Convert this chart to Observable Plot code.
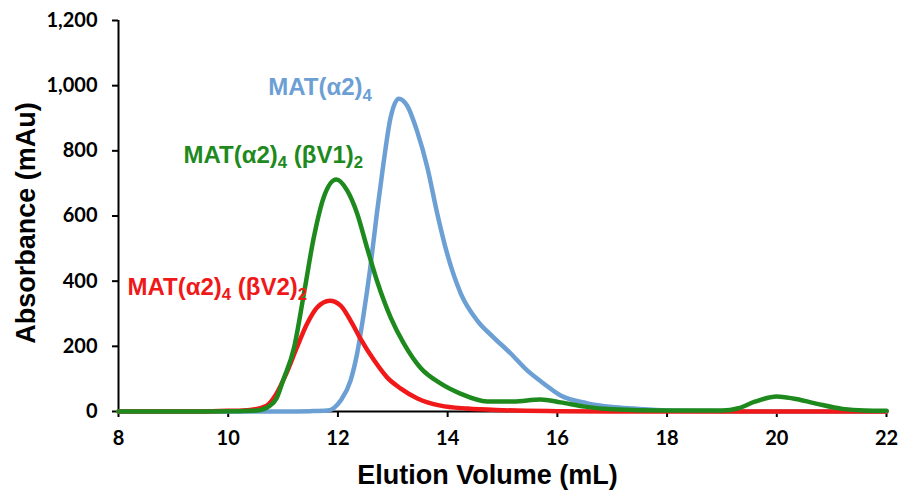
<!DOCTYPE html>
<html>
<head>
<meta charset="utf-8">
<script src="https://cdn.jsdelivr.net/npm/d3@7"></script>
<script src="https://cdn.jsdelivr.net/npm/@observablehq/plot@0.6"></script>
<style>
  html, body { margin: 0; padding: 0; background: #fff; }
</style>
</head>
<body>
<div id="chart"></div>
<script>
// ---- Data (elution volume mL, absorbance mAu) ----
const xTicks = [8, 10, 12, 14, 16, 18, 20, 22];
const yTicks = [0, 200, 400, 600, 800, 1000, 1200];

const seriesNames = ["MAT(α2)_4", "MAT(α2)_4 (βV1)_2", "MAT(α2)_4 (βV2)_2"];
const seriesColors = ["#6ca0d4", "#1e8a1e", "#f01818"];

const blueCurve = [
  [8, 0], [10, 0], [11, 0], [11.5, 1], [11.81, 3], [12.05, 34], [12.23, 95], [12.35, 178],
  [12.47, 300], [12.59, 442], [12.71, 608], [12.83, 761], [12.96, 902], [13.11, 960],
  [13.26, 939], [13.44, 862], [13.63, 749], [13.81, 608], [13.99, 485], [14.24, 362],
  [14.54, 279], [14.84, 227], [15.15, 178], [15.45, 126], [15.75, 86], [16.06, 49],
  [16.55, 25], [17.0, 14], [17.39, 9], [18.0, 3], [19, 1], [20, 0], [22, 0]
];

const greenCurve = [
  [8, 0], [9.5, 0], [10.2, 1], [10.52, 3], [10.76, 18], [10.88, 40], [11.0, 95], [11.2, 196],
  [11.38, 362], [11.56, 534], [11.74, 657], [11.97, 712], [12.17, 678], [12.35, 608],
  [12.53, 503], [12.71, 402], [12.96, 289], [13.2, 209], [13.5, 135], [13.87, 86],
  [14.23, 55], [14.72, 31], [15.2, 31], [15.69, 37], [16.06, 28], [16.5, 15], [17, 7],
  [18, 3], [19, 3], [19.3, 10], [19.6, 30], [20.0, 46], [20.3, 40], [20.7, 25],
  [21.2, 8], [21.6, 3], [22, 2]
];

const redCurve = [
  [8, 0], [9.5, 0], [10.0, 2], [10.4, 5], [10.7, 18], [10.88, 55], [11.06, 117], [11.25, 196],
  [11.44, 270], [11.62, 319], [11.85, 340], [12.05, 325], [12.23, 279], [12.41, 224],
  [12.66, 157], [12.9, 104], [13.14, 71], [13.45, 40], [13.87, 18], [14.36, 9],
  [15, 4], [16, 1], [17, 0], [22, 0]
];

// label anchor positions (x in mL, y in mAu, baseline)
const labelX = [10.73, 9.185, 8.164];
const labelY = [970, 764, 359];

const curves = [blueCurve, greenCurve, redCurve];
const labels = seriesNames.map((name, i) => ({name, x: labelX[i], y: labelY[i], color: seriesColors[i]}));

const drawOrder = [0, 2, 1]; // blue, red, green on top

const chart = Plot.plot({
  width: 900,
  height: 493,
  marginLeft: 118,
  marginRight: 14,
  marginTop: 20,
  marginBottom: 82,
  style: {fontFamily: "Lato, 'Open Sans', sans-serif", fontSize: "20px", fontWeight: "bold", color: "#000", background: "#fff"},
  x: {domain: [8, 22]},
  y: {domain: [0, 1200]},
  marks: [
    Plot.ruleY([0], {stroke: "#000", strokeWidth: 2}),
    Plot.ruleX([8], {stroke: "#000", strokeWidth: 2}),
    Plot.axisX({ticks: xTicks, tickSize: 6, tickPadding: 13, label: null, strokeWidth: 2, fontSize: 20, tickFormat: d => String(d)}),
    Plot.axisY({ticks: yTicks, tickSize: 6, tickPadding: 15, label: null, strokeWidth: 2, fontSize: 20, tickFormat: d3.format(",")}),
    ...drawOrder.map(i => Plot.line(curves[i], {
      x: d => d[0], y: d => d[1], stroke: seriesColors[i], strokeWidth: 4.5, curve: "monotone-x"
    })),
    Plot.text(labels, {
      x: "x", y: "y", text: "name", fill: "color", textAnchor: "start", lineAnchor: "bottom",
      fontFamily: "'Liberation Sans', Arial, sans-serif", fontSize: 24, fontWeight: "bold"
    }),
    Plot.text(["Elution Volume (mL)"], {
      frameAnchor: "bottom", textAnchor: "middle", lineAnchor: "bottom", dy: 72, dx: -15,
      fontFamily: "'Liberation Sans', Arial, sans-serif", fontSize: 27, fontWeight: "bold", fill: "#000"
    }),
    Plot.text(["Absorbance (mAu)"], {
      frameAnchor: "left", textAnchor: "middle", lineAnchor: "bottom", rotate: -90, dx: -84, dy: 7,
      fontFamily: "'Liberation Sans', Arial, sans-serif", fontSize: 27, fontWeight: "bold", fill: "#000"
    })
  ]
});

// turn "_n" into subscripts
d3.select(chart).selectAll("text").each(function() {
  const t = this;
  const s = t.textContent;
  if (!s.includes("_")) return;
  const parts = s.split(/_(\d)/);
  const sel = d3.select(t);
  sel.text("");
  parts.forEach((p, k) => {
    if (p === "") return;
    const isSub = k % 2 === 1;
    const ts = sel.append("tspan").text(p);
    if (isSub) {
      ts.attr("font-size", "0.7em").attr("dy", "0.32em");
    } else if (k > 0) {
      ts.attr("dy", "-0.224em");
    }
  });
});

document.getElementById("chart").appendChild(chart);
</script>
</body>
</html>
